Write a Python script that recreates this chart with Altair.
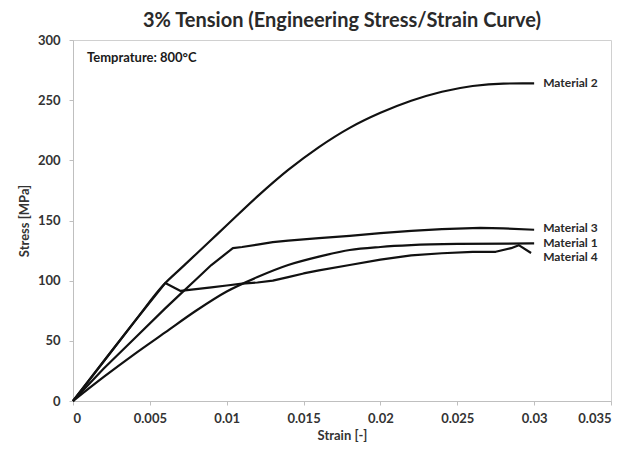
import altair as alt
import pandas as pd

# Material 2
m2_strain = [0, 0.002, 0.004, 0.006, 0.007, 0.008, 0.009, 0.010, 0.012, 0.014,
             0.016, 0.018, 0.020, 0.022, 0.024, 0.026, 0.028, 0.030]
m2_stress = [0, 33, 66, 98, 110, 122, 134, 146, 170, 192,
             211, 227, 239.5, 249.5, 257, 261.8, 263.8, 264]

# Material 3
m3_strain = [0, 0.002, 0.004, 0.006, 0.007, 0.008, 0.009, 0.0104, 0.011, 0.012, 0.013,
             0.014, 0.015, 0.016, 0.018, 0.020, 0.022, 0.024, 0.0265, 0.028, 0.030]
m3_stress = [0, 27, 52, 77, 89, 101, 113, 127, 128, 130, 132,
             133.3, 134.3, 135.3, 137.3, 139.5, 141.3, 142.8, 143.8, 143.5, 142.3]

# Material 1
m1_strain = [0, 0.002, 0.004, 0.006, 0.008, 0.010, 0.012, 0.014, 0.016, 0.018,
             0.020, 0.022, 0.025, 0.030]
m1_stress = [0, 20, 39, 57, 75, 91, 103, 113, 120, 125.5,
             128, 129.5, 130.5, 131]

# Material 4
m4_strain = [0, 0.002, 0.004, 0.006, 0.007, 0.008, 0.009, 0.010, 0.011, 0.012,
             0.013, 0.014, 0.015, 0.016, 0.018, 0.020, 0.022, 0.024, 0.026,
             0.0275, 0.0285, 0.029, 0.0298]
m4_stress = [0, 33, 66, 98, 91.5, 93, 94.5, 96, 97.5, 98.5,
             100, 103, 106, 108.5, 113, 117.5, 121, 122.8, 124,
             124, 127, 129.5, 123]

# Labels at right ends of curves
label_names = ["Material 2", "Material 3", "Material 1", "Material 4"]
label_strain = [0.030, 0.030, 0.030, 0.030]
label_stress = [264, 143.5, 131.5, 119.5]

x_ticks = [0, 0.005, 0.01, 0.015, 0.02, 0.025, 0.03, 0.035]
y_ticks = [0, 50, 100, 150, 200, 250, 300]


def frame(name, xs, ys):
    return pd.DataFrame({"material": name, "strain": xs, "stress": ys,
                         "idx": list(range(len(xs)))})


smooth_df = pd.concat([frame("Material 2", m2_strain, m2_stress),
                       frame("Material 1", m1_strain, m1_stress)])
sharp_df = pd.concat([frame("Material 3", m3_strain, m3_stress),
                      frame("Material 4", m4_strain, m4_stress)])
labels = pd.DataFrame({"material": label_names, "strain": label_strain, "stress": label_stress})

FONT = "Lato"
xscale = alt.Scale(domain=[0, 0.035], nice=False)
yscale = alt.Scale(domain=[0, 300], nice=False)

xenc = alt.X("strain:Q", scale=xscale,
             axis=alt.Axis(title="Strain [-]", values=x_ticks, format="~g",
                           grid=False, tickSize=4, labelPadding=7, titlePadding=4))
yenc = alt.Y("stress:Q", scale=yscale,
             axis=alt.Axis(title="Stress [MPa]", values=y_ticks,
                           grid=False, tickSize=4, labelPadding=9, titlePadding=6))

smooth = alt.Chart(smooth_df).mark_line(
    color="#111111", strokeWidth=2.2, interpolate="monotone"
).encode(x=xenc, y=yenc, detail="material:N", order="idx:Q")

sharp = alt.Chart(sharp_df).mark_line(
    color="#111111", strokeWidth=2.2, strokeJoin="round"
).encode(x=xenc, y=yenc, detail="material:N", order="idx:Q")

text = alt.Chart(labels).mark_text(
    align="left", baseline="middle", dx=9, font=FONT, fontSize=12,
    fontWeight="bold", color="#2a2a2a"
).encode(
    x=alt.X("strain:Q", scale=xscale),
    y=alt.Y("stress:Q", scale=yscale),
    text="material:N",
)

temp_df = pd.DataFrame({"t": ["Temprature: 800°C"]})
temp = alt.Chart(temp_df).mark_text(
    align="left", baseline="middle", font=FONT, fontSize=13,
    fontWeight="bold", color="#1a1a1a"
).encode(x=alt.value(14), y=alt.value(18), text="t:N")

chart = alt.layer(smooth, sharp, text, temp).properties(
    width=538, height=361,
    title=alt.TitleParams("3% Tension (Engineering Stress/Strain Curve)",
                          font=FONT, fontSize=20, fontWeight="bold",
                          color="#2a2a2a", offset=3, anchor="middle"),
    autosize=alt.AutoSizeParams(type="none"),
    padding={"left": 65, "top": 32, "right": 16, "bottom": 50},
).configure_view(
    stroke="#d0d0d0", strokeWidth=1
).configure_axis(
    labelFont=FONT, labelFontSize=13, labelFontWeight="bold", labelColor="#333333",
    titleFont=FONT, titleFontSize=13, titleFontWeight="bold", titleColor="#333333",
    domainColor="#bfbfbf", tickColor="#bfbfbf"
)

chart.save("out.html", embed_options={"renderer": "svg", "actions": False})
